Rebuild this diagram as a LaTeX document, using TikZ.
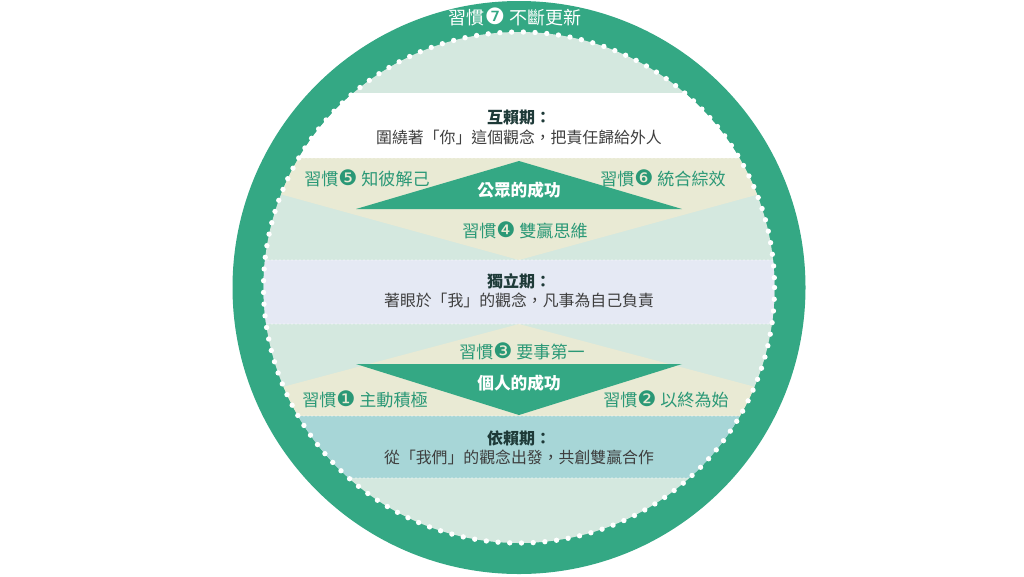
\documentclass[tikz,border=0pt]{standalone}
\usepackage{fontspec}
\setmainfont{Noto Sans CJK TC}
\newfontfamily\numfont{DejaVu Sans}
\usepackage{tikz}
\usetikzlibrary{positioning}
\definecolor{ring}{RGB}{52,168,132}
\definecolor{habit}{RGB}{42,152,118}
\definecolor{mint}{RGB}{212,232,223}
\definecolor{sand}{RGB}{233,234,212}
\definecolor{lilac}{RGB}{229,233,244}
\definecolor{aqua}{RGB}{167,214,215}
\definecolor{phase}{RGB}{30,58,56}
\definecolor{desc}{RGB}{62,62,62}
\newcommand{\habit}[2]{習慣{\numfont\scalebox{1.25}{#1}} #2}
\tikzset{
node distance=3pt, % gap between phase name and its text
every node/.style={inner sep=0pt},
habitlabel/.style={text=habit, font=\fontsize{12.8}{14}\selectfont},
phasename/.style={text=phase, font=\bfseries\fontsize{12}{14}\selectfont},
phasetext/.style={text=desc, font=\fontsize{11.9}{14}\selectfont},
success/.style={text=white, font=\bfseries\fontsize{12.5}{14}\selectfont},
sepline/.style={white, line width=1pt, dash pattern=on 0pt off 3pt, line cap=round},
}

\begin{document}
\begin{tikzpicture}[x=0.75pt,y=-0.75pt]%coordinates in pixels, y downwards
  \useasboundingbox (0,0) rectangle (1024,576);
  \fill[ring] (519,287.5) circle[radius=286.5];
  \begin{scope}
    \clip (519,287.5) circle[radius=255.5];
    \fill[mint] (200,0) rectangle (840,576);
    \fill[white] (200,93) rectangle (840,158);
    \fill[sand] (200,158) -- (840,158) -- (840,172) -- (519,260) -- (200,172) -- cycle;
    \fill[lilac] (200,260) rectangle (840,324);
    \fill[sand] (200,416) -- (200,409) -- (519,324) -- (838,409) -- (838,416) -- cycle;
    \fill[aqua] (200,416) rectangle (840,478);
    \foreach \y in {158,260,324,416,478}
      \draw[sepline] (200,\y) -- (840,\y);
  \end{scope}
  \draw[white, line width=4pt, dash pattern=on 0pt off 8.8pt, line cap=round]
    (519,287.5) circle[radius=255.5];
  % success triangles
  \fill[ring] (519,161) -- (356,209) -- (682,209) -- cycle;
  \fill[ring] (356,364) -- (682,364) -- (519,415) -- cycle;

  \node[habitlabel, text=white, font=\fontsize{13.5}{15}\selectfont] (h7) at (515,17) {\habit{❼}{不斷更新}};

  \node[phasename] (inter) at (519,118) {互賴期：};
  \node[phasetext, below=of inter] (intertext) {圍繞著「你」這個觀念，把責任歸給外人};
  \node[habitlabel] (h5) at (367,178) {\habit{❺}{知彼解己}};
  \node[habitlabel] (h6) at (663,178) {\habit{❻}{統合綜效}};
  \node[success] (public) at (519,190) {公眾的成功};
  \node[habitlabel] (h4) at (525,230) {\habit{❹}{雙贏思維}};

  \node[phasename] (indep) at (519,281) {獨立期：};
  \node[phasetext, below=of indep] (indeptext) {著眼於「我」的觀念，凡事為自己負責};

  \node[habitlabel] (h3) at (522,351) {\habit{❸}{要事第一}};
  \node[success] (private) at (519,383) {個人的成功};
  \node[habitlabel] (h1) at (365,399) {\habit{❶}{主動積極}};
  \node[habitlabel] (h2) at (666,399) {\habit{❷}{以終為始}};

  \node[phasename] (dep) at (519,438) {依賴期：};
  \node[phasetext, below=of dep] (deptext) {從「我們」的觀念出發，共創雙贏合作};
\end{tikzpicture}
\end{document}
